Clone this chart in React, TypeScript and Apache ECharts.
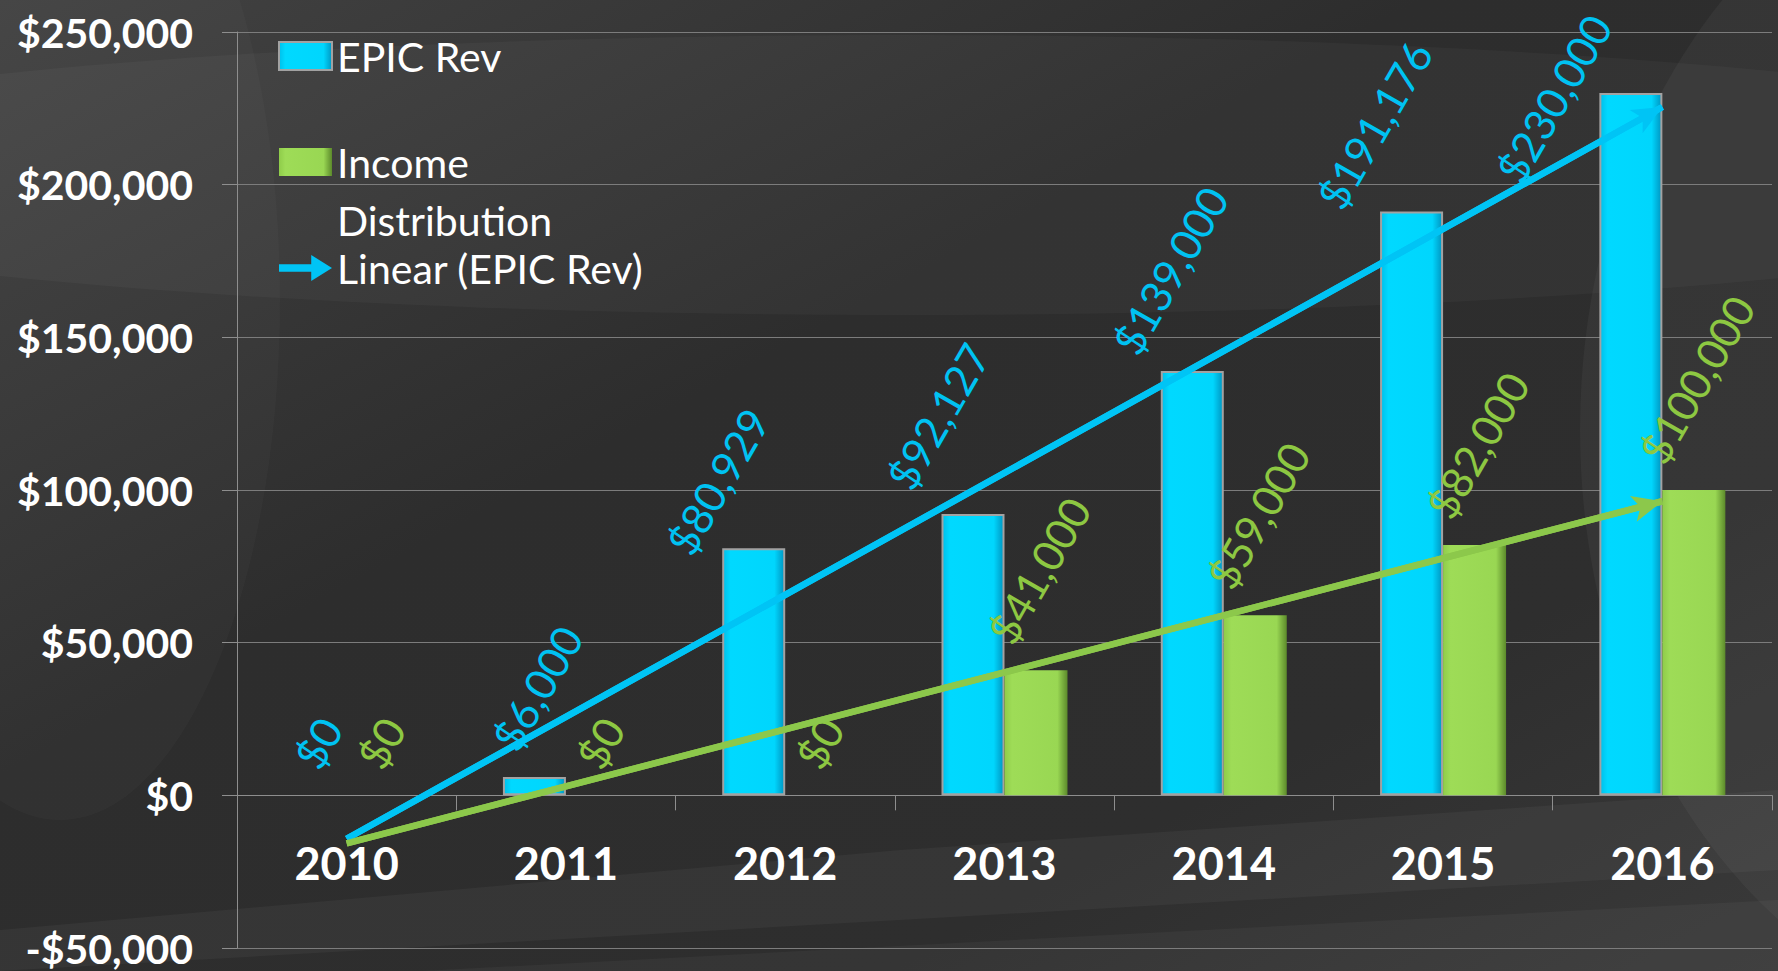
import React, { useEffect, useRef } from 'react';
import * as echarts from 'echarts';

// ---------- data ----------
const CATEGORIES = ['2010', '2011', '2012', '2013', '2014', '2015', '2016'];
const EPIC_REV = [0, 6000, 80929, 92127, 139000, 191176, 230000];
const INCOME_DIST = [0, 0, 0, 41000, 59000, 82000, 100000];
const Y_MIN = -50000;
const Y_MAX = 250000;
const Y_STEP = 50000;

const NAME_REV = 'EPIC Rev';
const NAME_INC = 'Income Distribution';
const NAME_REV_TREND = 'Linear (EPIC Rev)';
const NAME_INC_TREND = 'Linear (Income Distribution)';

// ---------- styles ----------
const BLUE_LABEL = '#00C2F2';
const GREEN_LABEL = '#8DC842';
const BLUE_TREND = '#00C4F5';
const GREEN_TREND = '#8CC84B';
const GRID_COLOR = '#7c7c7c';
const AXIS_COLOR = '#8e8e8e';
const FONT = 'Lato';
const LABEL_FONT_SIZE = 43;
const LABEL_LINE_H = 43;
const LABEL_ROTATE = 60;
// Excel data labels that were dragged by hand (screen px, relative to the default spot)
const REV_LABEL_NUDGE = [[0, 0], [0, 0], [-39, 33], [-38, 2], [-25, 10], [-40, 24], [-80, 116]];
const INC_LABEL_NUDGE = [[0, 0], [0, 0], [0, 0], [0, 0], [0, 0], [0, 0], [0, 0]];

// least-squares linear trend (Excel "Linear" trendline) over x = 1..n
function linearTrend(ys: number[]): number[] {
  const n = ys.length;
  const xs = ys.map((_, i) => i + 1);
  const mx = xs.reduce((a, b) => a + b, 0) / n;
  const my = ys.reduce((a, b) => a + b, 0) / n;
  let sxy = 0;
  let sxx = 0;
  for (let i = 0; i < n; i++) {
    sxy += (xs[i] - mx) * (ys[i] - my);
    sxx += (xs[i] - mx) * (xs[i] - mx);
  }
  const b = sxy / sxx;
  const a = my - b * mx;
  return xs.map((x) => a + b * x);
}

const money = (v: number) => (v < 0 ? '-$' : '$') + Math.round(Math.abs(v)).toLocaleString('en-US');

let measureCtx: CanvasRenderingContext2D | null = null;
function textWidth(text: string): number {
  if (!measureCtx) {
    measureCtx = document.createElement('canvas').getContext('2d');
  }
  if (!measureCtx) return text.length * LABEL_FONT_SIZE * 0.55;
  measureCtx.font = `${LABEL_FONT_SIZE}px ${FONT}`;
  return measureCtx.measureText(text).width;
}

// Places a rotated label so that its bounding box is centred over the bar and sits above it
function makeLabelLayout(nudges: number[][]) {
  const rad = (LABEL_ROTATE * Math.PI) / 180;
  const c = Math.cos(rad);
  const s = Math.sin(rad);
  return (params: any) => {
    const r = params.rect;
    const W = textWidth(params.text || '');
    const H = LABEL_LINE_H;
    const n = nudges[params.dataIndex] || [0, 0];
    const cx = r.x + r.width / 2 + 3 + n[0];
    const bottom = r.y - 20 + n[1];
    return { x: cx - (W * c - H * s) / 2, y: bottom };
  };
}

function barLabel(color: string) {
  return {
    show: true,
    position: 'top',
    rotate: LABEL_ROTATE,
    align: 'left',
    verticalAlign: 'bottom',
    color,
    fontFamily: FONT,
    fontSize: LABEL_FONT_SIZE,
    lineHeight: LABEL_LINE_H,
    formatter: (p: any) => money(p.value),
  };
}

// zero-height bars draw nothing in the reference, so drop their outline
const barData = (vals: number[]) =>
  vals.map((v) => (v === 0 ? { value: v, itemStyle: { borderWidth: 0 } } : v));

function buildOption(): any {
  const revTrend = linearTrend(EPIC_REV);
  const incTrend = linearTrend(INCOME_DIST);
  const last = CATEGORIES.length - 1;

  const blueFill = new echarts.graphic.LinearGradient(0, 0, 1, 0, [
    { offset: 0, color: '#00bfea' },
    { offset: 0.12, color: '#00d9ff' },
    { offset: 0.84, color: '#00d6fd' },
    { offset: 1, color: '#0096c2' },
  ]);
  const greenFill = new echarts.graphic.LinearGradient(0, 0, 1, 0, [
    { offset: 0, color: '#8fcc4a' },
    { offset: 0.12, color: '#9edc57' },
    { offset: 0.84, color: '#99d753' },
    { offset: 1, color: '#5c8a2b' },
  ]);

  const trendMarkLine = (vals: number[], color: string) => ({
    silent: true,
    symbol: ['none', 'arrow'],
    symbolSize: [20, 30],
    label: { show: false },
    lineStyle: { color, width: 6.5, type: 'solid', opacity: 1 },
    emphasis: { disabled: true },
    data: [[{ coord: [CATEGORIES[0], vals[0]] }, { coord: [CATEGORIES[last], vals[last]] }]],
  });

  return {
    animation: false,
    backgroundColor: '#2f2f2f',
    graphic: {
      elements: [
        {
          type: 'rect', z: -10, silent: true,
          shape: { x: 0, y: 0, width: 1778, height: 971 },
          style: {
            fill: new echarts.graphic.LinearGradient(0, 0, 1, 1, [
              { offset: 0, color: '#424242' },
              { offset: 0.4, color: '#2d2d2d' },
              { offset: 0.75, color: '#2e2e2e' },
              { offset: 1, color: '#3a3a3a' },
            ]),
          },
        },
        { type: 'ellipse', z: -9, silent: true, shape: { cx: 900, cy: 175, rx: 1300, ry: 140 }, style: { fill: 'rgba(255,255,255,0.03)' } },
        { type: 'ellipse', z: -9, silent: true, shape: { cx: 60, cy: 300, rx: 220, ry: 520 }, style: { fill: 'rgba(255,255,255,0.025)' } },
        { type: 'ellipse', z: -9, silent: true, shape: { cx: 2050, cy: 430, rx: 470, ry: 600 }, style: { fill: 'rgba(255,255,255,0.04)' } },
        { type: 'polygon', z: -9, silent: true, shape: { points: [[0, 930], [900, 850], [1778, 790], [1778, 870], [900, 920], [0, 971]] }, style: { fill: 'rgba(255,255,255,0.04)' } },
        { type: 'polygon', z: -9, silent: true, shape: { points: [[420, 971], [1778, 900], [1778, 971]] }, style: { fill: 'rgba(255,255,255,0.035)' } },
      ],
    },
    grid: { left: 237, right: 6, top: 32, bottom: 23, containLabel: false, outerBoundsMode: 'none' },
    legend: {
      orient: 'vertical',
      left: 278,
      top: 27,
      padding: 0,
      itemGap: -10,
      itemWidth: 53,
      itemHeight: 28,
      selectedMode: false,
      align: 'left',
      textStyle: { color: '#ffffff', fontFamily: FONT, fontSize: 41, lineHeight: 58 },
      formatter: (name: string) => (name === NAME_INC ? '\nIncome\nDistribution' : name),
      data: [
        { name: NAME_REV, icon: 'rect' },
        { name: NAME_INC, icon: 'rect' },
        {
          name: NAME_REV_TREND,
          icon: 'path://M3,9 L34,9 L34,0 L54,12.5 L34,25 L34,16 L3,16 Z',
          itemStyle: { color: BLUE_TREND, borderWidth: 0 },
        },
      ],
    },
    xAxis: {
      type: 'category',
      data: CATEGORIES,
      boundaryGap: true,
      axisLine: { show: true, onZero: true, lineStyle: { color: AXIS_COLOR, width: 1 } },
      axisTick: { show: true, length: 15, interval: 0, lineStyle: { color: AXIS_COLOR } },
      axisLabel: {
        interval: 0,
        color: '#ffffff',
        fontFamily: FONT,
        fontWeight: 'bold',
        fontSize: 45,
        lineHeight: 45,
        margin: -108,
      },
      splitLine: { show: false },
    },
    yAxis: {
      type: 'value',
      min: Y_MIN,
      max: Y_MAX,
      interval: Y_STEP,
      axisLine: { show: true, lineStyle: { color: AXIS_COLOR, width: 1 } },
      axisTick: { show: true, length: 15, lineStyle: { color: AXIS_COLOR } },
      axisLabel: {
        color: '#ffffff',
        fontFamily: FONT,
        fontWeight: 'bold',
        fontSize: 41,
        lineHeight: 40,
        padding: [0, 0, 10, 0],
        margin: 44,
        formatter: (v: number) => money(v),
      },
      splitLine: { show: true, lineStyle: { color: GRID_COLOR, width: 1 } },
    },
    series: [
      {
        name: NAME_REV,
        type: 'bar',
        data: barData(EPIC_REV),
        barWidth: 63,
        barGap: '0%',
        itemStyle: { color: blueFill, borderColor: '#a2a2a2', borderWidth: 2 },
        label: barLabel(BLUE_LABEL),
        labelLayout: makeLabelLayout(REV_LABEL_NUDGE),
        emphasis: { disabled: true },
        z: 2,
      },
      {
        name: NAME_INC,
        type: 'bar',
        data: barData(INCOME_DIST),
        barWidth: 63,
        barGap: '0%',
        itemStyle: { color: greenFill, borderWidth: 0 },
        label: barLabel(GREEN_LABEL),
        labelLayout: makeLabelLayout(INC_LABEL_NUDGE),
        emphasis: { disabled: true },
        z: 2,
      },
      {
        name: NAME_REV_TREND,
        type: 'line',
        data: revTrend,
        symbol: 'none',
        showSymbol: false,
        itemStyle: { color: BLUE_TREND },
        lineStyle: { color: BLUE_TREND, width: 6.5 },
        emphasis: { disabled: true },
        markLine: trendMarkLine(revTrend, BLUE_TREND),
        z: 3,
      },
      {
        name: NAME_INC_TREND,
        type: 'line',
        data: incTrend,
        symbol: 'none',
        showSymbol: false,
        itemStyle: { color: GREEN_TREND },
        lineStyle: { color: GREEN_TREND, width: 6.5 },
        emphasis: { disabled: true },
        markLine: trendMarkLine(incTrend, GREEN_TREND),
        z: 3,
      },
    ],
  };
}

export default function App() {
  const ref = useRef<HTMLDivElement>(null);
  useEffect(() => {
    document.body.style.margin = '0';
    if (!ref.current) return;
    const chart = echarts.init(ref.current, undefined, { renderer: 'svg' });
    chart.setOption(buildOption());
    return () => {
      chart.dispose();
    };
  }, []);
  return (
    <div
      ref={ref}
      style={{ position: 'fixed', left: 0, top: 0, width: '1778px', height: '971px' }}
    />
  );
}
